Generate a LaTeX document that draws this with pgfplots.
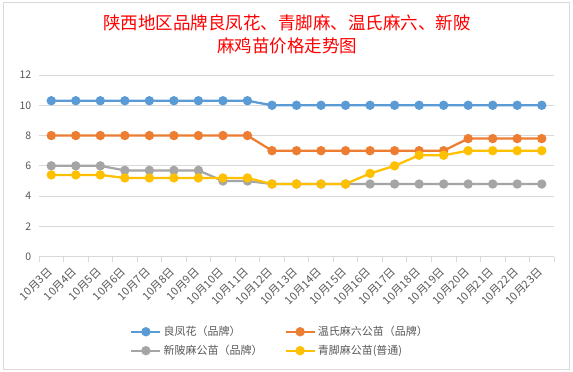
\documentclass[border=0pt]{standalone}
\usepackage{pgfplots}
\pgfplotsset{compat=1.18}
\usepackage{fontspec}
\setmainfont{Noto Sans CJK SC}
\definecolor{cblue}{HTML}{5B9BD5}
\definecolor{corange}{HTML}{ED7D31}
\definecolor{cgray}{HTML}{A5A5A5}
\definecolor{cyellow}{HTML}{FFC000}
\definecolor{gridc}{HTML}{D9D9D9}
\definecolor{txt}{HTML}{595959}
\begin{document}
\begin{tikzpicture}
\path[use as bounding box] (0pt,0pt) rectangle (573pt,372pt);
\fill[white] (0pt,0pt) rectangle (573pt,372pt);
\draw[gridc, line width=0.75pt] (3pt,3pt) rectangle (569pt,370pt);
\node[text=red, align=center, font=\fontsize{17.5}{23}\selectfont] at (287pt,338pt) {陕西地区品牌良凤花、青脚麻、温氏麻六、新陂\\麻鸡苗价格走势图};
\begin{axis}[
  at={(39pt,115.3pt)}, anchor=south west,
  scale only axis, width=515pt, height=181.7pt,
  xmin=-0.5, xmax=20.5, ymin=0, ymax=12,
  axis x line*=bottom, axis y line*=left,
  y axis line style={draw=none},
  x axis line style={draw=gridc, line width=0.75pt},
  ytick={0,2,...,12},
  ymajorgrids, grid style={gridc, line width=0.75pt},
  ytick style={draw=none},
  yticklabel style={text=txt, font=\fontsize{10.5}{12}\selectfont},
  /pgf/number format/assume math mode=true,
  xtick={0,...,20},
  xticklabels={10月3日,10月4日,10月5日,10月6日,10月7日,10月8日,10月9日,10月10日,10月11日,10月12日,10月13日,10月14日,10月15日,10月16日,10月17日,10月18日,10月19日,10月20日,10月21日,10月22日,10月23日},
  major x tick style={draw=none},
  minor xtick={-0.5,0.5,...,20.5},
  minor x tick style={draw=gridc, line width=0.75pt},
  minor tick length=5pt,
  tick align=outside,
  xticklabel style={rotate=45, anchor=east, text=txt, font=\fontsize{11}{13}\selectfont, xshift=2pt},
  xticklabel shift={8pt},
  legend columns=2,
  legend cell align=left,
  legend style={at={(0.468,-0.36)}, anchor=north, draw=none, fill=none,
    font=\fontsize{11}{13}\selectfont, text=txt, row sep=4pt,
    /tikz/every even column/.append style={column sep=20pt}},
  legend image code/.code={\draw[mark repeat=2,mark phase=2] plot coordinates {(0pt,0pt) (14.5pt,0pt) (29pt,0pt)};},
  every axis plot/.append style={line width=2.25pt, mark=*, mark size=3.5pt},
]
\addplot[cblue, mark options={fill=cblue}] coordinates {
(0,10.3)(1,10.3)(2,10.3)(3,10.3)(4,10.3)(5,10.3)(6,10.3)(7,10.3)(8,10.3)
(9,10.0)(10,10.0)(11,10.0)(12,10.0)(13,10.0)(14,10.0)(15,10.0)(16,10.0)(17,10.0)(18,10.0)(19,10.0)(20,10.0)};
\addlegendentry{良凤花（品牌）}
\addplot[corange, mark options={fill=corange}] coordinates {
(0,8)(1,8)(2,8)(3,8)(4,8)(5,8)(6,8)(7,8)(8,8)
(9,7)(10,7)(11,7)(12,7)(13,7)(14,7)(15,7)(16,7)
(17,7.8)(18,7.8)(19,7.8)(20,7.8)};
\addlegendentry{温氏麻六公苗（品牌）}
\addplot[cgray, mark options={fill=cgray}] coordinates {
(0,6)(1,6)(2,6)(3,5.7)(4,5.7)(5,5.7)(6,5.7)(7,5.0)(8,5.0)
(9,4.8)(10,4.8)(11,4.8)(12,4.8)(13,4.8)(14,4.8)(15,4.8)(16,4.8)(17,4.8)(18,4.8)(19,4.8)(20,4.8)};
\addlegendentry{新陂麻公苗（品牌）}
\addplot[cyellow, mark options={fill=cyellow}] coordinates {
(0,5.4)(1,5.4)(2,5.4)(3,5.2)(4,5.2)(5,5.2)(6,5.2)(7,5.2)(8,5.2)
(9,4.8)(10,4.8)(11,4.8)(12,4.8)(13,5.5)(14,6.0)(15,6.7)(16,6.7)(17,7.0)(18,7.0)(19,7.0)(20,7.0)};
\addlegendentry{青脚麻公苗(普通)}
\end{axis}
\end{tikzpicture}
\end{document}
